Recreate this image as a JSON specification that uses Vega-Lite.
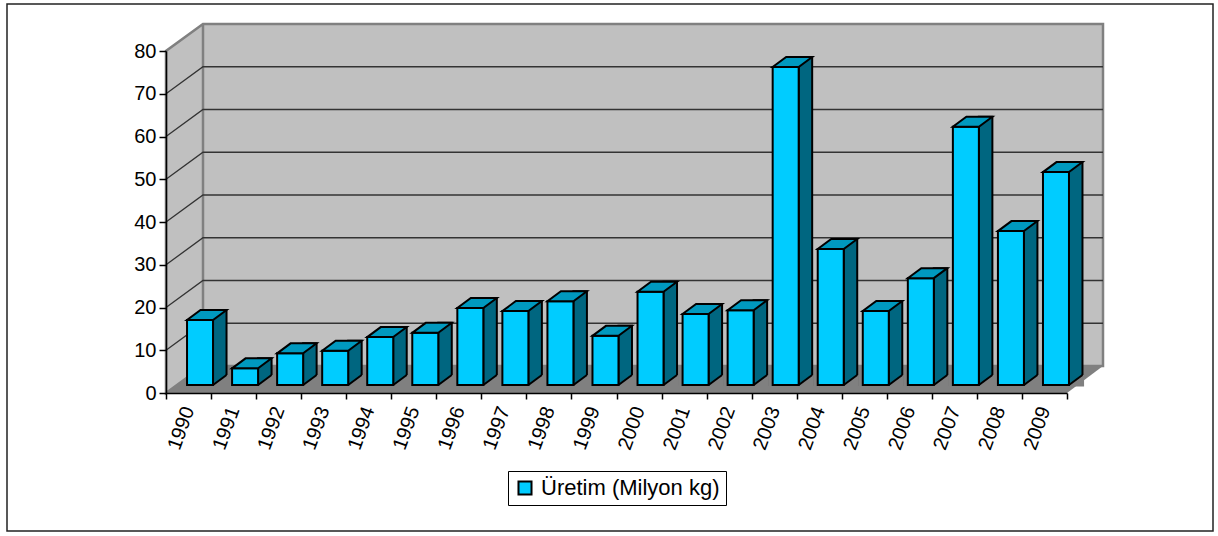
{
  "$schema": "https://vega.github.io/schema/vega-lite/v6.json",
  "width": 1206,
  "height": 527,
  "autosize": "none",
  "padding": {"left": 7, "top": 4, "right": 5, "bottom": 5},
  "background": "white",
  "config": {
    "font": "Liberation Sans",
    "view": {"stroke": "#222222", "strokeWidth": 1.5}
  },
  "data": {
    "values": [
      {"year": "1990", "value": 15.2},
      {"year": "1991", "value": 3.9},
      {"year": "1992", "value": 7.4},
      {"year": "1993", "value": 8.0},
      {"year": "1994", "value": 11.2},
      {"year": "1995", "value": 12.2},
      {"year": "1996", "value": 18.0},
      {"year": "1997", "value": 17.3},
      {"year": "1998", "value": 19.6},
      {"year": "1999", "value": 11.5},
      {"year": "2000", "value": 21.8},
      {"year": "2001", "value": 16.6},
      {"year": "2002", "value": 17.5},
      {"year": "2003", "value": 74.4},
      {"year": "2004", "value": 31.8},
      {"year": "2005", "value": 17.3},
      {"year": "2006", "value": 25.0},
      {"year": "2007", "value": 60.4},
      {"year": "2008", "value": 36.0},
      {"year": "2009", "value": 49.8}
    ]
  },
  "layer": [
    {
      "transform": [{"filter": {"field": "year", "equal": "2000"}}],
      "mark": {"type": "point", "shape": "M-0.4505,0L-0.4135,-0.027L0.4865,-0.027L0.4505,0Z", "size": 4000000, "filled": true, "fill": "#808080", "strokeWidth": 0, "opacity": 1},
      "encoding": {
        "x": {
          "field": "year", "type": "ordinal", "bandPosition": 0,
          "scale": {"range": [159, 1060], "paddingInner": 0, "paddingOuter": 0},
          "axis": {"title": null, "grid": false, "zindex": 1, "offset": -138, "labelAngle": -70, "labelFontSize": 20, "labelFont": "Liberation Sans", "labelColor": "black", "labelPadding": 8, "tickBand": "extent", "tickSize": 6, "tickColor": "black", "tickWidth": 1.5, "domainColor": "black", "domainWidth": 1.5}
        },
        "y": {
          "datum": 0, "type": "quantitative",
          "scale": {"domain": [0, 80], "range": [389, 47], "nice": false},
          "axis": {"title": null, "grid": false, "zindex": 1, "offset": -159, "values": [0, 10, 20, 30, 40, 50, 60, 70, 80], "labelFontSize": 20, "labelFont": "Liberation Sans", "labelColor": "black", "labelPadding": 3, "tickSize": 7, "tickColor": "black", "tickWidth": 1.5, "domainColor": "black", "domainWidth": 1.5}
        }
      }
    },
    {
      "transform": [{"filter": {"field": "year", "equal": "2000"}}],
      "mark": {"type": "point", "shape": "M-0.4505,0L-0.4505,-0.342L-0.4135,-0.369L0.4865,-0.369L0.4865,-0.027L-0.4135,-0.027ZM-0.4135,-0.027L-0.4135,-0.369", "size": 4000000, "filled": true, "fill": "#C0C0C0", "stroke": "#808080", "strokeWidth": 2.5, "opacity": 1},
      "encoding": {
        "x": {"field": "year", "type": "ordinal", "bandPosition": 0},
        "y": {"datum": 0, "type": "quantitative"}
      }
    },
    {
      "transform": [{"filter": {"field": "year", "equal": "2000"}}],
      "mark": {"type": "point", "shape": "M-0.4505,-0.04275L-0.4135,-0.06975L0.4865,-0.06975M-0.4505,-0.0855L-0.4135,-0.1125L0.4865,-0.1125M-0.4505,-0.12825L-0.4135,-0.15525L0.4865,-0.15525M-0.4505,-0.171L-0.4135,-0.198L0.4865,-0.198M-0.4505,-0.21375L-0.4135,-0.24075L0.4865,-0.24075M-0.4505,-0.2565L-0.4135,-0.2835L0.4865,-0.2835M-0.4505,-0.29925L-0.4135,-0.32625L0.4865,-0.32625", "size": 4000000, "filled": false, "fill": null, "stroke": "#333333", "strokeWidth": 1.3, "opacity": 1},
      "encoding": {
        "x": {"field": "year", "type": "ordinal", "bandPosition": 0},
        "y": {"datum": 0, "type": "quantitative"}
      }
    },
    {
      "mark": {"type": "bar", "width": 13.5, "xOffset": 31.25, "yOffset": -18, "y2Offset": -8, "fill": "#006680", "stroke": "black", "strokeWidth": 2},
      "encoding": {
        "x": {"field": "year", "type": "ordinal"},
        "y": {"field": "value", "type": "quantitative"},
        "y2": {"datum": 0}
      }
    },
    {
      "mark": {"type": "point", "shape": "M0.245,-0.08L0.38,-0.18L0.396,-0.18L0.396,-0.064L0.245,-0.064Z", "size": 40000, "filled": true, "fill": "#808080", "strokeWidth": 0, "opacity": 1},
      "encoding": {
        "x": {"field": "year", "type": "ordinal"},
        "y": {"datum": 0, "type": "quantitative"}
      }
    },
    {
      "mark": {"type": "point", "shape": "M0.245,-0.08L0.38,-0.18", "size": 40000, "filled": false, "fill": null, "stroke": "black", "strokeWidth": 2, "opacity": 1},
      "encoding": {
        "x": {"field": "year", "type": "ordinal"},
        "y": {"datum": 0, "type": "quantitative"}
      }
    },
    {
      "mark": {"type": "bar", "width": 26, "xOffset": 11.5, "yOffset": -8, "y2Offset": -8, "stroke": "black", "strokeWidth": 2, "opacity": 1},
      "encoding": {
        "x": {"field": "year", "type": "ordinal"},
        "y": {"field": "value", "type": "quantitative"},
        "y2": {"datum": 0},
        "color": {
          "datum": "Üretim (Milyon kg)",
          "scale": {"range": ["#00CCFF"]},
          "legend": {"orient": "none", "legendX": 501, "legendY": 467, "title": null, "strokeColor": "black", "fillColor": "white", "padding": 6, "symbolType": "square", "symbolSize": 170, "symbolStrokeColor": "black", "symbolStrokeWidth": 2, "labelFontSize": 22, "labelFont": "Liberation Sans", "labelColor": "black", "labelLimit": 0, "labelOffset": 5}
        }
      }
    },
    {
      "mark": {"type": "point", "shape": "M-0.015,-0.08L0.245,-0.08L0.38,-0.18L0.12,-0.18Z", "size": 40000, "filled": true, "fill": "#0099BF", "stroke": "black", "strokeWidth": 2, "opacity": 1},
      "encoding": {
        "x": {"field": "year", "type": "ordinal"},
        "y": {"field": "value", "type": "quantitative"}
      }
    }
  ]
}
